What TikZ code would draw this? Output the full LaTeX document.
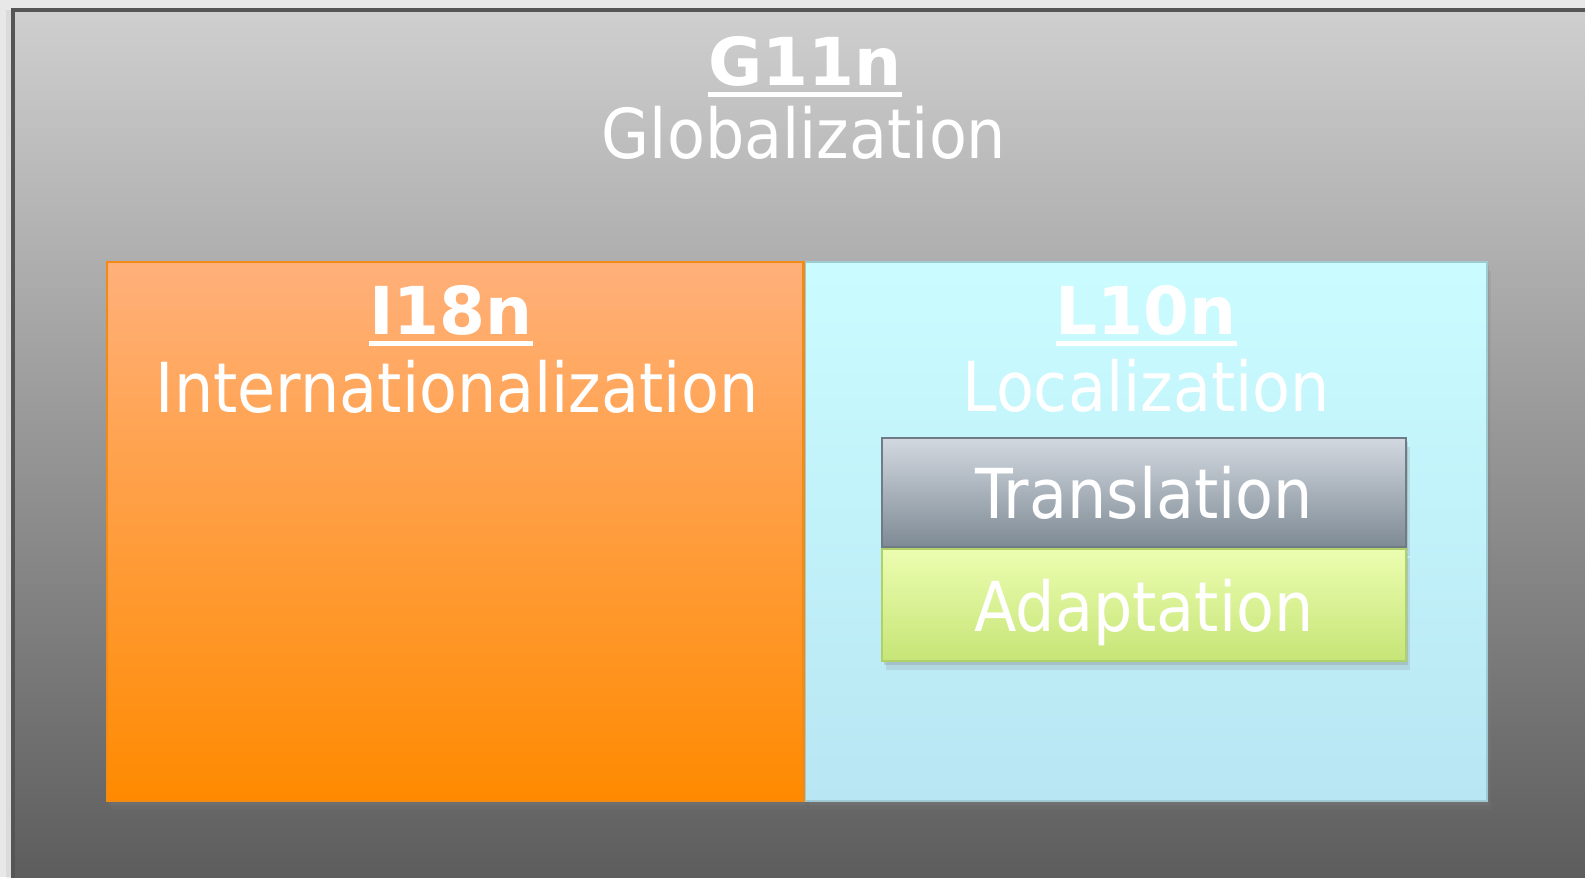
\documentclass[tikz,border=0pt]{standalone}
\usepackage{fontspec}
\setmainfont{DejaVu Sans}[FakeStretch=0.9]
\newfontfamily\headfont{DejaVu Sans}
\usetikzlibrary{positioning, shadows}

% Bold abbreviation with a thick rule under it
\newcommand{\abbrevline}[1]{\setbox0\hbox{#1}\rlap{\rule[-0.18em]{\wd0}{0.075em}}\box0}

\tikzset{
    box/.style={rectangle, inner sep=0pt, line width=0.6pt},
    title/.style={text=white, inner sep=0pt, anchor=base, font=\fontsize{19.6}{22}\selectfont},
    abbrev/.style={text=white, inner sep=0pt, anchor=base, font=\headfont\bfseries\fontsize{18.8}{22}\selectfont},
    boxShadow/.style={
        drop shadow={shadow xshift=0.6pt, shadow yshift=-1pt, opacity=0.25},
        drop shadow={shadow xshift=1.2pt, shadow yshift=-2.4pt, opacity=0.18}}
}

\begin{document}
\begin{tikzpicture}[x=1cm, y=1cm, node distance=0pt]
    \definecolor{pageGrey}{HTML}{E8E8E8}
    \definecolor{frameTop}{HTML}{CFCFCF}
    \definecolor{frameBottom}{HTML}{5A5A5A}
    \definecolor{frameBorder}{HTML}{555555}
    \definecolor{orangeTop}{HTML}{FFB07A}
    \definecolor{orangeBottom}{HTML}{FF8A00}
    \definecolor{orangeBorder}{HTML}{F28A14}
    \definecolor{blueTop}{HTML}{CAFCFF}
    \definecolor{blueBottom}{HTML}{B8E6F3}
    \definecolor{blueBorder}{HTML}{9FC9D3}
    \definecolor{transTop}{HTML}{D2D8E0}
    \definecolor{transBottom}{HTML}{7E8A94}
    \definecolor{transBorder}{HTML}{6F7B85}
    \definecolor{adaptTop}{HTML}{ECFDB0}
    \definecolor{adaptBottom}{HTML}{C6E577}
    \definecolor{adaptBorder}{HTML}{B0D06A}

    % Page area
    \useasboundingbox[fill=pageGrey] (0,0) rectangle (15.85,-8.77);
    \clip (0,0) rectangle (15.85,-8.77);

    % Draw the outer frame
    \node[box, draw=frameBorder, line width=1.2pt, top color=frameTop, bottom color=frameBottom,
        drop shadow={shadow xshift=-2pt, shadow yshift=0pt, opacity=0.12},
        anchor=north west, minimum width=16cm, minimum height=8.9cm] (g11nBox) at (0.11,-0.08) {};

    % Frame headings
    \node[abbrev] (g11nAbbr) at (8.05,-0.85) {\abbrevline{G11n}};
    \node[title] (g11nName) at (8.04,-1.58) {Globalization};

    % Draw the two inner boxes
    \node[box, draw=orangeBorder, top color=orangeTop, bottom color=orangeBottom, boxShadow,
        anchor=north west, minimum width=6.96cm, minimum height=5.39cm] (i18nBox) at (1.06,-2.61) {};
    \node[box, draw=blueBorder, top color=blueTop, bottom color=blueBottom, boxShadow,
        minimum width=6.82cm, minimum height=5.39cm, right=of i18nBox] (l10nBox) {};
    \draw[orangeBorder, line width=0.6pt] (i18nBox.north east) -- (i18nBox.south east);

    % Inner box headings
    \node[abbrev] (i18nAbbr) at ([xshift=-0.04cm, yshift=-0.73cm]i18nBox.north) {\abbrevline{I18n}};
    \node[title] (i18nName) at ([xshift=0.02cm, yshift=-1.51cm]i18nBox.north) {Internationalization};
    \node[abbrev] (l10nAbbr) at ([yshift=-0.73cm]l10nBox.north) {\abbrevline{L10n}};
    \node[title] (l10nName) at ([yshift=-1.50cm]l10nBox.north) {Localization};

    % Draw translation and adaptation
    \node[box, draw=transBorder, top color=transTop, bottom color=transBottom, boxShadow,
        anchor=north west, minimum width=5.24cm, minimum height=1.09cm,
        text=white, text depth=0pt, font=\fontsize{19.6}{22}\selectfont] (transBox) at (8.81,-4.37) {Translation};
    \node[box, draw=adaptBorder, top color=adaptTop, bottom color=adaptBottom, boxShadow,
        minimum width=5.24cm, minimum height=1.12cm, below=of transBox,
        text=white, text depth=0pt, font=\fontsize{19.6}{22}\selectfont] (adaptBox) {Adaptation};

\end{tikzpicture}
\end{document}
